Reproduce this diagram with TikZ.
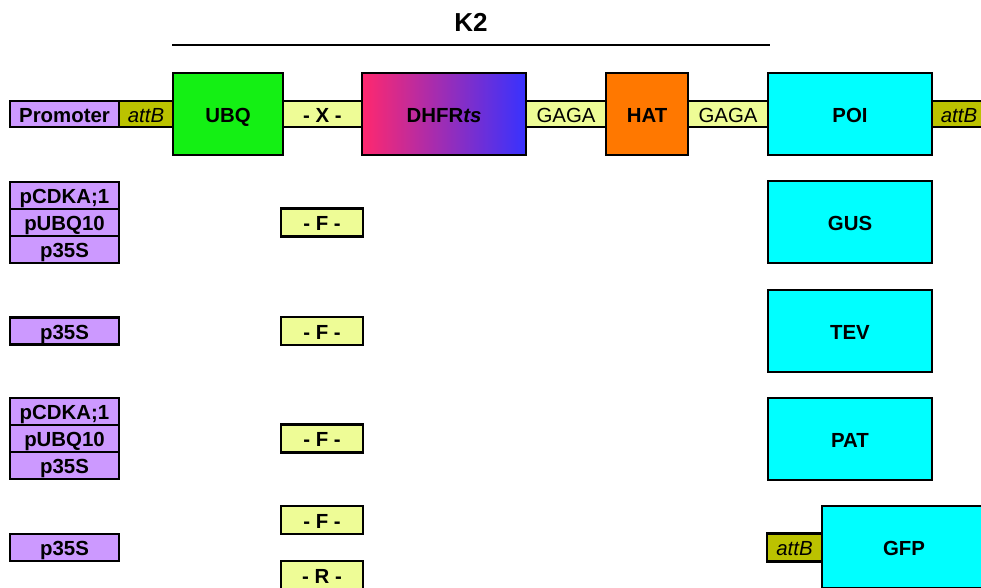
\documentclass[tikz,border=0pt]{standalone}
\usepackage{fontspec}
\setmainfont{Liberation Sans}
\usetikzlibrary{positioning}

\definecolor{promcol}{RGB}{204,153,255}
\definecolor{attbcol}{RGB}{187,194,0}
\definecolor{linkcol}{RGB}{238,252,150}
\definecolor{ubqcol}{RGB}{20,240,20}
\definecolor{dhfrleft}{RGB}{255,40,110}
\definecolor{dhfrright}{RGB}{55,50,255}
\definecolor{hatcol}{RGB}{255,120,0}
\definecolor{poicol}{RGB}{0,255,255}

\begin{document}
\begin{tikzpicture}[
  x=0.75pt, y=-0.75pt,
  part/.style={draw, line width=1.9pt, inner sep=0pt, outer sep=0pt, text height=12.5pt, text depth=0pt, font=\bfseries\fontsize{15.3}{18}\selectfont},
  prom/.style={part, fill=promcol, minimum width=81.75pt, minimum height=20.25pt},
  attb/.style={part, fill=attbcol, font=\mdseries\itshape\fontsize{15.3}{18}\selectfont, minimum width=40.5pt, minimum height=19.5pt},
  link/.style={part, fill=linkcol, minimum height=19.5pt},
  gaga/.style={link, font=\mdseries\fontsize{15.3}{18}\selectfont, minimum width=60pt},
  protbox/.style={part, minimum height=61.5pt},
]
\clip (0,0) rectangle (981,588);

% === K2 CASSETTE ===
\node[font=\bfseries\fontsize{19.5}{23}\selectfont, text height=14pt, text depth=0pt, inner sep=0pt] (k2) at (471,22) {K2};
\coordinate (k2l) at (172,45);
\coordinate (k2r) at (770,45);
\draw[line width=2pt] (k2l) -- (k2r);

\node[prom, minimum height=19.5pt] (prom) at (64.5,114) {Promoter};
\node[attb] (attbl) at (146,114) {attB};
\node[protbox, fill=ubqcol, minimum width=82.5pt] (ubq) at (228,114) {UBQ};
\node[link, minimum width=59.25pt] (xres) at (322.5,114) {- X -};
\node[protbox, left color=dhfrleft, right color=dhfrright, minimum width=123pt] (dhfr) at (444,114) {DHFR\textit{ts}};
\node[gaga] (gaga1) at (566,114) {GAGA};
\node[protbox, fill=hatcol, minimum width=61.5pt] (hat) at (647,114) {HAT};
\node[gaga] (gaga2) at (728,114) {GAGA};
\node[protbox, fill=poicol, minimum width=123pt] (poi) at (850,114) {POI};
\node[attb] (attbr) at (959,114) {attB};

% === VARIANTS ===
% GUS
\node[prom] (pcdka1) at (64.5,195.5) {pCDKA;1};
\node[prom] (pubq1) at (64.5,222.5) {pUBQ10};
\node[prom] (p35s1) at (64.5,249.5) {p35S};
\node[link, minimum width=61.5pt, minimum height=21pt] (f1) at (322,222.5) {- F -};
\node[protbox, fill=poicol, minimum width=123pt] (gus) at (850,222) {GUS};

% TEV
\node[prom] (p35s2) at (64.5,331) {p35S};
\node[link, minimum width=61.5pt, minimum height=21pt] (f2) at (322,331) {- F -};
\node[protbox, fill=poicol, minimum width=123pt] (tev) at (850,331) {TEV};

% PAT
\node[prom] (pcdka3) at (64.5,411.5) {pCDKA;1};
\node[prom] (pubq3) at (64.5,438.5) {pUBQ10};
\node[prom] (p35s3) at (64.5,465.5) {p35S};
\node[link, minimum width=61.5pt, minimum height=21pt] (f3) at (322,438.5) {- F -};
\node[protbox, fill=poicol, minimum width=123pt] (pat) at (850,439) {PAT};

% GFP
\node[link, minimum width=61.5pt, minimum height=21pt] (f4) at (322,520) {- F -};
\node[prom] (p35s4) at (64.5,547.5) {p35S};
\node[link, minimum width=61.5pt, minimum height=21pt] (r4) at (322,575) {- R -};
\node[attb, minimum width=41.25pt, minimum height=21pt] (attbg) at (794.5,547.5) {attB};
\node[protbox, fill=poicol, minimum width=123pt] (gfp) at (904,547) {GFP};
\end{tikzpicture}
\end{document}
